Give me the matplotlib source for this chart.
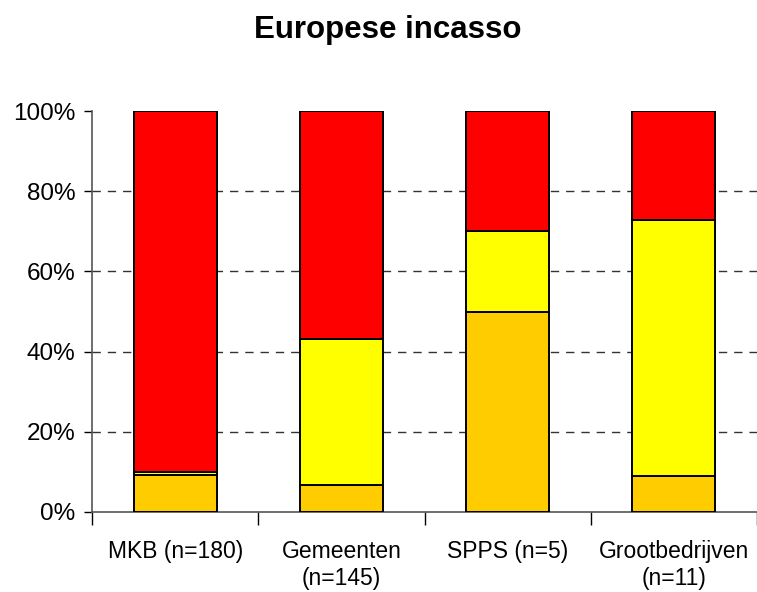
import numpy as np
import matplotlib
matplotlib.use("Agg")
from matplotlib import pyplot as plt

plt.rcParams["font.family"] = ["Liberation Sans", "DejaVu Sans"]

categories = ["MKB (n=180)", "Gemeenten\n(n=145)", "SPPS (n=5)", "Grootbedrijven\n(n=11)"]
orange = [9.2, 6.8, 50.0, 9.1]
yellow = [0.8, 36.4, 20.0, 63.6]
red = [90.0, 56.8, 30.0, 27.3]

X = np.arange(len(categories))

fig = plt.figure(figsize=(7.57, 5.92), dpi=100)
ax = fig.add_axes([92 / 757, 1 - 512 / 592, 665 / 757, 401 / 592])

w = 0.5
ax.bar(X, orange, w, color="#FFCC00", edgecolor="black", linewidth=1.4, zorder=3)
ax.bar(X, yellow, w, bottom=orange, color="#FFFF00", edgecolor="black", linewidth=1.4, zorder=3)
ax.bar(X, red, w, bottom=np.add(orange, yellow), color="#FF0000", edgecolor="black", linewidth=1.4, zorder=3)

ax.set_xlim(-0.5, -0.5 + 665 / 167)
ax.set_ylim(0, 100)

# dashed grid lines, not at 0 and 100
for v in [20, 40, 60, 80]:
    ax.axhline(v, color="#333333", linestyle=(0, (6, 5)), linewidth=1, zorder=1)

ax.set_yticks([0, 20, 40, 60, 80, 100])
ax.set_yticklabels(["0%", "20%", "40%", "60%", "80%", "100%"], fontsize=17.5)
ax.set_xticks(X)
ax.set_xticklabels(categories, fontsize=16.5, linespacing=1.25)
ax.tick_params(axis="x", length=0, pad=20)
ax.set_xticks(np.arange(len(categories) + 1) - 0.5, minor=True)
ax.tick_params(axis="x", which="minor", length=9, width=1, direction="out")
ax.tick_params(axis="y", length=6, width=1, direction="out", pad=6)

for s in ["top", "right"]:
    ax.spines[s].set_visible(False)
ax.spines["left"].set_color("#555555")
ax.spines["bottom"].set_color("#555555")
ax.spines["left"].set_linewidth(1.2)
ax.spines["bottom"].set_linewidth(1.2)

fig.text(388 / 757, 1 - 30 / 592, "Europese incasso", ha="center", va="center",
         fontsize=22.5, fontweight="bold")

fig.savefig("out.png", dpi=100)
